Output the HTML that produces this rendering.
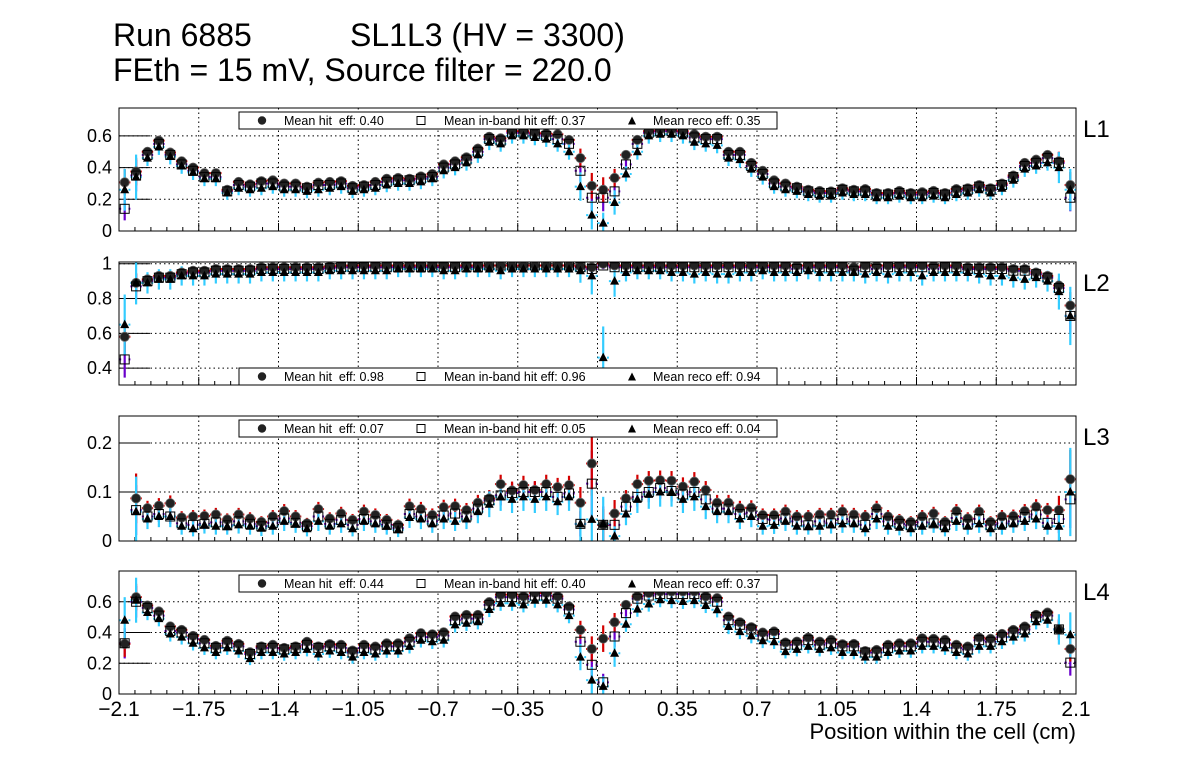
<!DOCTYPE html>
<html><head><meta charset="utf-8"><style>
html,body{margin:0;padding:0;background:#fff;}
svg{display:block;font-family:"Liberation Sans",Arial,sans-serif;}
</style></head><body>
<svg id="chart" width="1196" height="772" viewBox="0 0 1196 772" xmlns="http://www.w3.org/2000/svg">
<rect width="1196" height="772" fill="#fff"/>
<text x="113" y="46" font-size="32">Run 6885</text>
<text x="350" y="46" font-size="32">SL1L3 (HV = 3300)</text>
<text x="113" y="81" font-size="32">FEth = 15 mV, Source filter = 220.0</text>
<text x="1076" y="739" font-size="22" text-anchor="end">Position within the cell (cm)</text>
<g id="plots"></g>
</svg>
<script>
const xTicks = [-2.1,-1.75,-1.4,-1.05,-0.7,-0.35,0,0.35,0.7,1.05,1.4,1.75,2.1];
const xTickLabels = ["\u22122.1","\u22121.75","\u22121.4","\u22121.05","\u22120.7","\u22120.35","0","0.35","0.7","1.05","1.4","1.75","2.1"];
const layerNames = ["L1","L2","L3","L4"];
const meanHit = ["0.40","0.98","0.07","0.44"];
const meanBand = ["0.37","0.96","0.05","0.40"];
const meanReco = ["0.35","0.94","0.04","0.37"];
const yTicks1 = [0,0.2,0.4,0.6];
const yTicks2 = [0.4,0.6,0.8,1];
const yTicks3 = [0,0.1,0.2];
const yTicks4 = [0,0.2,0.4,0.6];
const yTickLabels1 = ["0","0.2","0.4","0.6"];
const yTickLabels2 = ["0.4","0.6","0.8","1"];
const yTickLabels3 = ["0","0.1","0.2"];
const yTickLabels4 = ["0","0.2","0.4","0.6"];

const p1Hit = [.307,.375,.50,.57,.495,.44,.40,.365,.365,.26,.31,.295,.315,.32,.30,.30,.28,.305,.31,.315,.285,.29,.31,.33,.335,.33,.345,.36,.42,.44,.465,.52,.595,.585,.63,.63,.62,.615,.61,.575,.46,.285,
.26,.335,.48,.575,.63,.64,.64,.63,.61,.595,.595,.50,.50,.43,.38,.32,.30,.28,.26,.253,.25,.27,.26,.265,.24,.24,.253,.24,.245,.253,.24,.265,.27,.29,.27,.30,.35,.43,.45,.48,.44,.29];
const p1Band = [.14,.35,.48,.55,.48,.42,.38,.34,.34,.25,.29,.28,.30,.30,.28,.28,.27,.29,.29,.30,.27,.28,.29,.31,.32,.32,.33,.34,.40,.42,.45,.50,.58,.57,.62,.62,.61,.60,.58,.55,.38,.21,
.21,.25,.42,.55,.62,.63,.63,.62,.59,.58,.58,.48,.48,.41,.36,.30,.28,.27,.25,.24,.24,.26,.25,.25,.23,.23,.24,.23,.23,.24,.23,.25,.26,.28,.26,.29,.34,.41,.43,.46,.43,.21];
const p1Reco = [.26,.34,.46,.53,.47,.41,.37,.33,.33,.24,.27,.26,.27,.28,.26,.26,.25,.26,.27,.28,.25,.26,.27,.29,.30,.30,.31,.33,.38,.40,.43,.48,.56,.55,.60,.60,.59,.58,.55,.50,.28,.10,
.05,.18,.36,.50,.60,.61,.61,.60,.56,.55,.54,.46,.45,.39,.34,.28,.26,.25,.23,.22,.22,.24,.23,.23,.21,.21,.22,.21,.21,.22,.21,.23,.24,.26,.24,.27,.32,.39,.41,.43,.40,.26];

const p2Hit = [.58,.89,.91,.93,.93,.95,.96,.96,.97,.97,.97,.97,.98,.98,.98,.98,.98,.98,.985,.99,.99,.99,.99,.99,.99,.99,.99,.99,.99,.99,.99,.99,.99,.99,.99,.99,.99,.99,.99,.99,.985,.98,
1.0,.99,.99,.99,.99,.99,.99,.99,.99,.99,.99,.99,.99,.99,.99,.99,.99,.99,.99,.99,.99,.99,.98,.99,.99,.99,.99,.99,.99,.99,.99,.99,.98,.98,.98,.98,.97,.97,.95,.93,.875,.76,.70];
const p2Band = [.45,.87,.90,.92,.92,.94,.95,.95,.96,.96,.96,.96,.97,.97,.97,.97,.97,.97,.975,.98,.98,.98,.98,.98,.98,.98,.98,.98,.98,.98,.98,.98,.99,.99,.99,.99,.99,.99,.99,.99,.98,.97,
.99,.98,.98,.98,.98,.98,.98,.98,.98,.98,.98,.98,.98,.98,.98,.98,.98,.97,.98,.98,.98,.98,.96,.98,.97,.98,.98,.98,.98,.97,.98,.98,.97,.97,.97,.97,.96,.96,.94,.92,.86,.70,.55];
const p2Reco = [.65,.89,.89,.91,.91,.93,.93,.93,.94,.94,.94,.94,.95,.95,.95,.95,.95,.95,.96,.96,.96,.96,.96,.96,.97,.97,.97,.97,.96,.96,.97,.97,.97,.96,.97,.97,.97,.97,.97,.97,.96,.93,
.46,.90,.95,.96,.96,.96,.95,.95,.94,.95,.94,.94,.95,.95,.96,.95,.95,.95,.96,.95,.95,.95,.95,.94,.95,.94,.95,.95,.93,.95,.95,.95,.95,.94,.93,.93,.92,.91,.92,.90,.84,.70,.69];

const p3Hit = [null,.087,.067,.072,.077,.048,.05,.051,.054,.044,.054,.046,.039,.05,.061,.05,.036,.065,.046,.056,.043,.06,.053,.043,.033,.071,.065,.053,.069,.071,.063,.078,.087,.116,.103,.114,.104,.116,.11,.114,.078,.158,
.033,.056,.087,.116,.123,.124,.123,.111,.121,.104,.078,.078,.067,.068,.053,.053,.06,.05,.05,.054,.054,.06,.054,.05,.067,.05,.043,.039,.05,.056,.039,.061,.046,.06,.039,.05,.051,.061,.07,.063,.063,.126];
const p3Band = [null,.063,.05,.055,.05,.036,.033,.035,.038,.032,.04,.035,.03,.037,.046,.037,.03,.05,.035,.043,.033,.045,.04,.033,.026,.055,.05,.04,.052,.056,.05,.066,.083,.093,.098,.1,.1,.1,.09,.097,.035,.117,
.033,.033,.07,.09,.1,.108,.102,.095,.1,.085,.066,.066,.055,.058,.045,.043,.046,.04,.032,.04,.036,.045,.04,.033,.055,.04,.035,.032,.038,.036,.032,.047,.034,.045,.032,.036,.04,.049,.054,.037,.045,.085];
const p3Reco = [null,.06,.045,.05,.05,.03,.025,.033,.03,.03,.033,.03,.026,.03,.04,.035,.025,.04,.03,.035,.025,.04,.035,.03,.023,.048,.045,.035,.045,.04,.045,.06,.075,.09,.085,.09,.085,.09,.08,.09,.035,.044,
.035,.01,.055,.085,.095,.1,.1,.085,.09,.07,.06,.06,.045,.05,.03,.032,.04,.03,.03,.03,.033,.035,.035,.025,.045,.03,.028,.025,.03,.035,.025,.04,.03,.035,.025,.03,.035,.04,.045,.03,.03,.1];

const p4Hit = [.326,.63,.576,.537,.44,.417,.378,.352,.313,.346,.326,.272,.31,.32,.30,.31,.34,.31,.325,.32,.283,.32,.309,.33,.33,.363,.396,.389,.402,.504,.515,.515,.598,.646,.646,.635,.657,.657,.635,.57,.417,.293,
.36,.467,.58,.635,.657,.667,.667,.667,.667,.635,.624,.504,.467,.435,.40,.407,.335,.341,.367,.341,.352,.324,.326,.28,.287,.32,.33,.33,.363,.359,.352,.32,.309,.367,.359,.391,.417,.439,.515,.53,.42,.293];
const p4Band = [.33,.60,.56,.51,.41,.40,.36,.33,.30,.33,.31,.26,.30,.30,.29,.30,.32,.30,.31,.30,.27,.30,.29,.31,.31,.34,.37,.37,.38,.48,.49,.49,.58,.63,.63,.62,.64,.64,.62,.55,.34,.19,
.076,.374,.526,.62,.64,.65,.65,.65,.65,.62,.60,.48,.45,.42,.38,.39,.32,.32,.35,.32,.33,.31,.31,.27,.27,.30,.31,.31,.34,.34,.33,.30,.29,.35,.34,.37,.40,.42,.50,.51,.42,.204];
const p4Reco = [.48,.61,.53,.49,.39,.37,.33,.30,.27,.30,.28,.23,.27,.27,.26,.27,.29,.26,.28,.27,.24,.27,.26,.28,.28,.31,.35,.34,.35,.45,.46,.47,.55,.59,.59,.58,.61,.61,.58,.51,.24,.09,
.05,.265,.454,.552,.585,.613,.607,.602,.607,.576,.548,.439,.406,.378,.346,.340,.276,.29,.31,.29,.30,.27,.27,.24,.24,.27,.28,.28,.31,.31,.30,.27,.26,.31,.31,.34,.37,.39,.47,.48,.42,.385];

const panelHit = [p1Hit,p2Hit,p3Hit,p4Hit];
const panelBand = [p1Band,p2Band,p3Band,p4Band];
const panelReco = [p1Reco,p2Reco,p3Reco,p4Reco];
const panelYTicks = [yTicks1,yTicks2,yTicks3,yTicks4];
const panelYLabels = [yTickLabels1,yTickLabels2,yTickLabels3,yTickLabels4];

const NS = "http://www.w3.org/2000/svg";
const X0 = 119, X1 = 1076, XMIN = -2.1, XMAX = 2.1;
const frames = [{top:108,bot:231,ymin:0,ymax:0.776,leg:112},{top:262,bot:385,ymin:0.303,ymax:1.01,leg:368},{top:416,bot:541,ymin:0,ymax:0.255,leg:420},{top:571,bot:694,ymin:0,ymax:0.80,leg:575}];
function xPix(v){return X0+(v-XMIN)/(XMAX-XMIN)*(X1-X0);}
function mk(tag,attrs,parent){const e=document.createElementNS(NS,tag);for(const k in attrs)e.setAttribute(k,attrs[k]);parent.appendChild(e);return e;}
const root = document.getElementById("plots");
const nb = 84;
const centers = [];
for(let i=0;i<nb;i++) centers.push(XMIN+0.025+0.05*i);

function errFor(p,i,scale){
  let e = scale*Math.sqrt(Math.max(p*(1-p),0.004));
  if(i===0||i===1||i===41||i===42||i===83) e*=3; else if(i===40||i===43||i===82) e*=2;
  return e;
}

frames.forEach((f,pi)=>{
  const g = mk("g",{},root);
  
  
  const yPix = v => f.bot-(v-f.ymin)/(f.ymax-f.ymin)*(f.bot-f.top);
  const clipId="clip"+pi;
  const cp=mk("clipPath",{id:clipId},g); mk("rect",{x:X0,y:f.top,width:X1-X0,height:f.bot-f.top},cp);
  xTicks.forEach((t,k)=>{ if(k>0&&k<xTicks.length-1){const l=mk("line",{x1:xPix(t),x2:xPix(t),y1:f.top,y2:f.bot,stroke:"#000","stroke-width":1,"stroke-dasharray":"1.5,3"},g);
    
    }});
  panelYTicks[pi].forEach((t,k)=>{const y=yPix(t); if(y>f.top+1&&y<f.bot-1){
    const l=mk("line",{x1:X0,x2:X1,y1:y,y2:y,stroke:"#000","stroke-width":1,"stroke-dasharray":"1.5,3"},g);
    
    
    mk("line",{x1:X0,x2:X0+31,y1:y,y2:y,stroke:"#000","stroke-width":1},g);}
    const tx=mk("text",{x:112,y:y+6,"font-size":18,"text-anchor":"end"},g); tx.textContent=panelYLabels[pi][k];
    
    
  });
  for(let k=0;k<=60;k++){const v=XMIN+k*0.07; const x=xPix(v); const major=(k%5===0);
    mk("line",{x1:x,x2:x,y1:f.bot,y2:f.bot-(major?8:4),stroke:"#000","stroke-width":1},g);}
  const dg = mk("g",{"clip-path":"url(#"+clipId+")"},g);
  const series=[{d:panelBand[pi],col:"#6a00cc",sc:0.07,name:"in-band"},{d:panelHit[pi],col:"#d40000",sc:0.06,name:"hit"},{d:panelReco[pi],col:"#33ccff",sc:0.1,name:"reco"}];
  series.forEach(s=>{
    s.d.forEach((v,i)=>{ if(v===null) return; const x=xPix(centers[i]); const e=errFor(v,i,s.sc)+(pi===1&&s.name==="reco"?0.03:0);
      const l=mk("line",{x1:x,x2:x,y1:yPix(v+e),y2:yPix(v-e),stroke:s.col,"stroke-width":2.2},dg);
      
      
      mk("line",{x1:x-5.7,x2:x+5.7,y1:yPix(v),y2:yPix(v),stroke:s.col,"stroke-width":2,"stroke-dasharray":"2.2,7.3"},dg);
    });
  });
  panelHit[pi].forEach((v,i)=>{ if(v===null) return; const c=mk("circle",{cx:xPix(centers[i]),cy:yPix(v),r:4.6,fill:"#222",stroke:"#666","stroke-width":0.8},dg);
    
    });
  panelBand[pi].forEach((v,i)=>{ if(v===null) return; const r=mk("rect",{x:xPix(centers[i])-4.5,y:yPix(v)-4.5,width:9,height:9,fill:"none",stroke:"#000","stroke-width":1},dg);
    
    });
  panelReco[pi].forEach((v,i)=>{ if(v===null) return; const x=xPix(centers[i]),y=yPix(v);
    const t=mk("polygon",{points:(x-4.5)+","+(y+3.5)+" "+(x+4.5)+","+(y+3.5)+" "+x+","+(y-5)},dg);
    
    });
  const fr=mk("rect",{x:X0,y:f.top,width:X1-X0,height:f.bot-f.top,fill:"none",stroke:"#000","stroke-width":1},g);
  
  
  const lg=mk("g",{},g);
  
  
  const ly=f.leg;
  mk("rect",{x:239,y:ly,width:538,height:17,fill:"#fff",stroke:"#000","stroke-width":1},lg);
  mk("circle",{cx:262,cy:ly+8.5,r:4.2,fill:"#222"},lg);
  let t1=mk("text",{x:284,y:ly+13,"font-size":12.5},lg); t1.textContent="Mean hit  eff: "+meanHit[pi]; t1.setAttribute("xml:space","preserve"); t1.style.whiteSpace="pre";
  
  
  mk("rect",{x:417,y:ly+4.5,width:8,height:8,fill:"none",stroke:"#000","stroke-width":1},lg);
  let t2=mk("text",{x:444,y:ly+13,"font-size":12.5},lg); t2.textContent="Mean in-band hit eff: "+meanBand[pi];
  
  
  mk("polygon",{points:"628,"+(ly+12.5)+" 636,"+(ly+12.5)+" 632,"+(ly+4.5)},lg);
  let t3=mk("text",{x:653,y:ly+13,"font-size":12.5},lg); t3.textContent="Mean reco eff: "+meanReco[pi];
  
  
  const ll=mk("text",{x:1083,y:f.top+29,"font-size":24},g); ll.textContent=layerNames[pi];
  
  
});
xTicks.forEach((t,k)=>{const tx=mk("text",{x:xPix(t),y:716,"font-size":21,"text-anchor":"middle"},root); tx.textContent=xTickLabels[k];
  
  });
</script>
</body></html>
